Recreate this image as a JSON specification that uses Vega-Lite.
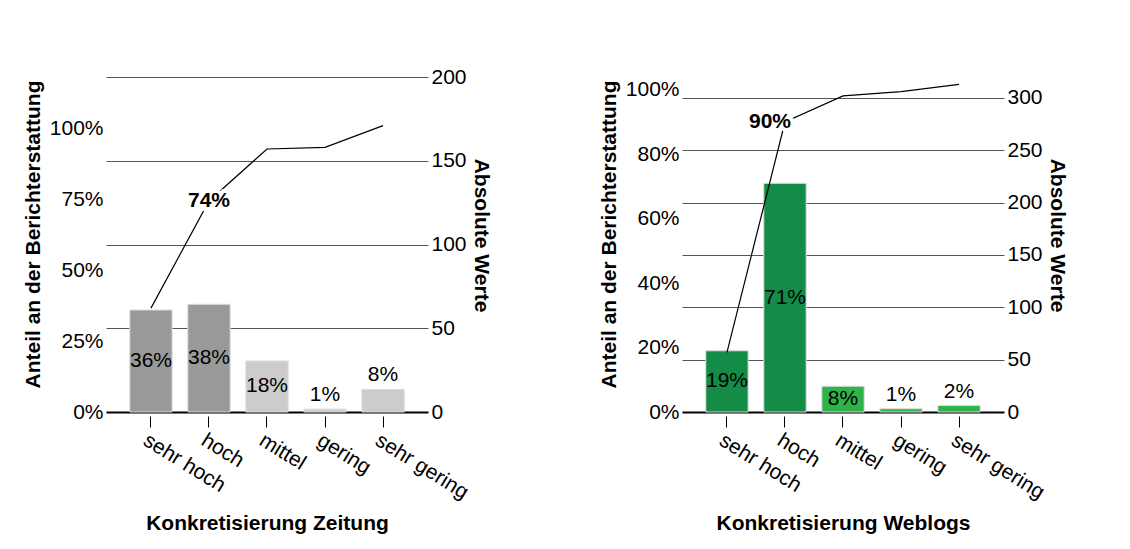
{
  "$schema": "https://vega.github.io/schema/vega-lite/v6.json",
  "padding": {"left": 22, "top": 66, "right": 5, "bottom": 5},
  "spacing": 106,
  "resolve": {"scale": {"color": "independent"}},
  "config": {
    "font": "Liberation Sans",
    "view": {"stroke": null},
    "axis": {
      "labelFont": "Liberation Sans", "labelFontSize": 21, "labelColor": "#000000",
      "titleFont": "Liberation Sans", "titleFontSize": 21, "titleFontWeight": "bold", "titleColor": "#000000"
    },
    "text": {"font": "Liberation Sans", "fontSize": 21, "color": "#000000"}
  },
  "hconcat": [
    {
      "width": 322, "height": 335,
      "data": {"values": [
        {"k": "sehr hoch", "pct": 0.36, "cumShare": 0.36, "cumAbs": 62},
        {"k": "hoch", "pct": 0.38, "cumShare": 0.74, "cumAbs": 126},
        {"k": "mittel", "pct": 0.18, "cumShare": 0.92, "cumAbs": 157},
        {"k": "gering", "pct": 0.01, "cumShare": 0.93, "cumAbs": 158},
        {"k": "sehr gering", "pct": 0.08, "cumShare": 1.01, "cumAbs": 171}
      ]},
      "encoding": {
        "x": {"field": "k", "type": "nominal", "sort": null,
          "scale": {"paddingInner": 0.27, "paddingOuter": 0.41},
          "axis": {"title": "Konkretisierung Zeitung", "domain": false, "offset": 4, "tickSize": 11, "tickColor": "#000000", "tickWidth": 1,
            "labelAngle": 32, "labelAlign": "left", "labelBaseline": "top", "labelPadding": 2, "titlePadding": 10, "zindex": 0}}
      },
      "layer": [
        {
          "encoding": {
            "y": {"field": "pct", "type": "quantitative", "scale": {"domain": [0, 1.182], "nice": false, "zero": true},
              "axis": {"title": "Anteil an der Berichterstattung", "orient": "left", "values": [0, 0.25, 0.5, 0.75, 1], "format": ".0%",
                "domain": false, "ticks": false, "grid": false, "labelPadding": 3, "titlePadding": 6, "titleY": 157}}
          },
          "layer": [
            {"mark": {"type": "bar", "stroke": "#dddddd", "strokeWidth": 1},
              "encoding": {"color": {"field": "k", "type": "nominal", "legend": null,
                "scale": {"domain": ["sehr hoch", "hoch", "mittel", "gering", "sehr gering"], "range": ["#999999", "#999999", "#cccccc", "#cccccc", "#cccccc"]}}}},
            {"transform": [{"filter": "datum.pct >= 0.1"}],
              "mark": {"type": "text", "baseline": "middle"},
              "encoding": {"y": {"field": "pct", "type": "quantitative", "stack": "zero", "bandPosition": 0.5}, "text": {"field": "pct", "type": "quantitative", "format": ".0%"}}},
            {"transform": [{"filter": "datum.pct < 0.1"}],
              "mark": {"type": "text", "baseline": "bottom", "dy": -4},
              "encoding": {"text": {"field": "pct", "type": "quantitative", "format": ".0%"}}}
          ]
        },
        {
          "encoding": {
            "y": {"field": "cumAbs", "type": "quantitative", "scale": {"domain": [0, 200], "nice": false},
              "axis": {"title": "Absolute Werte", "orient": "right", "values": [0, 50, 100, 150, 200], "domain": false, "ticks": false,
                "grid": true,
                "gridColor": {"condition": {"test": "datum.value === 0", "value": "#000000"}, "value": "#555555"},
                "gridWidth": {"condition": {"test": "datum.value === 0", "value": 2}, "value": 1},
                "labelPadding": 3, "titlePadding": 4, "titleAngle": 90, "titleY": 158}}
          },
          "layer": [
            {"mark": {"type": "line", "color": "#000000", "strokeWidth": 1.2}},
            {"transform": [{"filter": "datum.k == 'hoch'"}],
              "mark": {"type": "text", "fontWeight": "bold", "baseline": "middle", "stroke": "#ffffff", "strokeWidth": 8, "fill": "#ffffff"},
              "encoding": {"text": {"field": "cumShare", "type": "quantitative", "format": ".0%"}}},
            {"transform": [{"filter": "datum.k == 'hoch'"}],
              "mark": {"type": "text", "fontWeight": "bold", "baseline": "middle"},
              "encoding": {"text": {"field": "cumShare", "type": "quantitative", "format": ".0%"}}}
          ]
        }
      ],
      "resolve": {"scale": {"y": "independent"}}
    },
    {
      "width": 322, "height": 335,
      "data": {"values": [
        {"k": "sehr hoch", "pct": 0.19, "cumShare": 0.19, "cumAbs": 57},
        {"k": "hoch", "pct": 0.71, "cumShare": 0.90, "cumAbs": 277},
        {"k": "mittel", "pct": 0.08, "cumShare": 0.98, "cumAbs": 302},
        {"k": "gering", "pct": 0.01, "cumShare": 0.99, "cumAbs": 306},
        {"k": "sehr gering", "pct": 0.02, "cumShare": 1.01, "cumAbs": 313}
      ]},
      "encoding": {
        "x": {"field": "k", "type": "nominal", "sort": null,
          "scale": {"paddingInner": 0.27, "paddingOuter": 0.41},
          "axis": {"title": "Konkretisierung Weblogs", "domain": false, "offset": 4, "tickSize": 11, "tickColor": "#000000", "tickWidth": 1,
            "labelAngle": 32, "labelAlign": "left", "labelBaseline": "top", "labelPadding": 2, "titlePadding": 10, "zindex": 0}}
      },
      "layer": [
        {
          "encoding": {
            "y": {"field": "pct", "type": "quantitative", "scale": {"domain": [0, 1.04], "nice": false, "zero": true},
              "axis": {"title": "Anteil an der Berichterstattung", "orient": "left", "values": [0, 0.2, 0.4, 0.6, 0.8, 1], "format": ".0%",
                "domain": false, "ticks": false, "grid": false, "labelPadding": 3, "titlePadding": 6, "titleY": 157}}
          },
          "layer": [
            {"mark": {"type": "bar", "stroke": "#dddddd", "strokeWidth": 1},
              "encoding": {"color": {"field": "k", "type": "nominal", "legend": null,
                "scale": {"domain": ["sehr hoch", "hoch", "mittel", "gering", "sehr gering"], "range": ["#128c47", "#128c47", "#2eb34a", "#2eb34a", "#2eb34a"]}}}},
            {"transform": [{"filter": "datum.pct >= 0.05"}],
              "mark": {"type": "text", "baseline": "middle"},
              "encoding": {"y": {"field": "pct", "type": "quantitative", "stack": "zero", "bandPosition": 0.5}, "text": {"field": "pct", "type": "quantitative", "format": ".0%"}}},
            {"transform": [{"filter": "datum.pct < 0.05"}],
              "mark": {"type": "text", "baseline": "bottom", "dy": -4},
              "encoding": {"text": {"field": "pct", "type": "quantitative", "format": ".0%"}}}
          ]
        },
        {
          "encoding": {
            "y": {"field": "cumAbs", "type": "quantitative", "scale": {"domain": [0, 320], "nice": false},
              "axis": {"title": "Absolute Werte", "orient": "right", "values": [0, 50, 100, 150, 200, 250, 300], "domain": false, "ticks": false,
                "grid": true,
                "gridColor": {"condition": {"test": "datum.value === 0", "value": "#000000"}, "value": "#555555"},
                "gridWidth": {"condition": {"test": "datum.value === 0", "value": 2}, "value": 1},
                "labelPadding": 3, "titlePadding": 4, "titleAngle": 90, "titleY": 158}}
          },
          "layer": [
            {"mark": {"type": "line", "color": "#000000", "strokeWidth": 1.2}},
            {"transform": [{"filter": "datum.k == 'hoch'"}],
              "mark": {"type": "text", "fontWeight": "bold", "baseline": "middle", "dx": -15, "stroke": "#ffffff", "strokeWidth": 8, "fill": "#ffffff"},
              "encoding": {"text": {"field": "cumShare", "type": "quantitative", "format": ".0%"}}},
            {"transform": [{"filter": "datum.k == 'hoch'"}],
              "mark": {"type": "text", "fontWeight": "bold", "baseline": "middle", "dx": -15},
              "encoding": {"text": {"field": "cumShare", "type": "quantitative", "format": ".0%"}}}
          ]
        }
      ],
      "resolve": {"scale": {"y": "independent"}}
    }
  ]
}
